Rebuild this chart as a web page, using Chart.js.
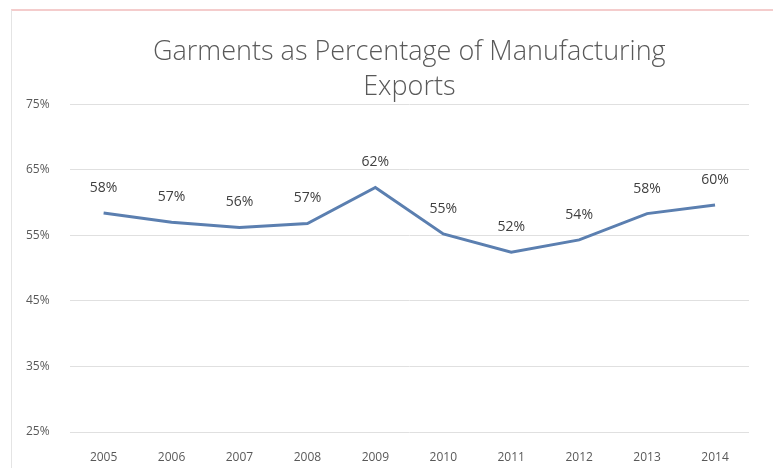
<!DOCTYPE html>
<html>
<head>
<meta charset="utf-8">
<script src="https://cdn.jsdelivr.net/npm/chart.js@4"></script>
<style>
  html, body { margin: 0; padding: 0; background: #fff; }
  #wrap { position: absolute; left: 11px; top: 9px; width: 762px; height: 459px;
          border-top: 2px solid #f4cccc; border-left: 1px solid #e4e4e4; box-sizing: border-box; }
  canvas { display: block; }
</style>
</head>
<body>
<div id="wrap"><canvas id="myChart" width="761" height="457"></canvas></div>
<script>
const years = ['2005', '2006', '2007', '2008', '2009', '2010', '2011', '2012', '2013', '2014'];
const garmentShare = [58.4, 57.0, 56.2, 56.8, 62.3, 55.2, 52.4, 54.3, 58.3, 59.6];
const pointLabels = ['58%', '57%', '56%', '57%', '62%', '55%', '52%', '54%', '58%', '60%'];
const yTicks = [25, 35, 45, 55, 65, 75];

// draws the value labels above each point
const valueLabels = {
  id: 'valueLabels',
  afterDatasetsDraw(chart) {
    const ctx = chart.ctx;
    const meta = chart.getDatasetMeta(0);
    ctx.save();
    ctx.font = '14px "Open Sans", sans-serif';
    ctx.fillStyle = '#404040';
    ctx.textAlign = 'center';
    ctx.textBaseline = 'middle';
    meta.data.forEach((pt, i) => {
      ctx.fillText(pointLabels[i], pt.x, pt.y - 25);
    });
    ctx.restore();
  }
};

const config = {
  type: 'line',
  data: {
    labels: years,
    datasets: [{
      data: garmentShare,
      borderColor: '#5b7fb0',
      borderWidth: 3,
      pointRadius: 0,
      tension: 0,
      fill: false
    }]
  },
  options: {
    responsive: false,
    animation: false,
    layout: { padding: { left: -6, right: 24, top: 0, bottom: 2 } },
    plugins: {
      legend: { display: false },
      tooltip: { enabled: false },
      title: {
        display: true,
        fullSize: false,
        text: ['Garments as Percentage of Manufacturing', 'Exports'],
        color: '#595959',
        font: { family: '"Open Sans", sans-serif', size: 27, weight: 300, lineHeight: 1.28 },
        padding: { top: 24, bottom: 0 }
      }
    },
    scales: {
      x: {
        offset: true,
        grid: { display: false, drawTicks: false },
        border: { display: false },
        afterFit(axis) { axis.height = 34; },
        ticks: { color: '#595959', font: { family: '"Open Sans", sans-serif', size: 12 }, padding: 18 }
      },
      y: {
        min: 25,
        max: 75,
        afterBuildTicks(axis) { axis.ticks = yTicks.map(v => ({ value: v })); },
        grid: { color: '#e0e0e0', drawTicks: false },
        border: { display: false },
        ticks: {
          color: '#595959',
          font: { family: '"Open Sans", sans-serif', size: 12 },
          padding: 20,
          callback: v => v + '%'
        }
      }
    }
  },
  plugins: [valueLabels]
};

const myChart = new Chart(document.getElementById('myChart'), config);
</script>
</body>
</html>
